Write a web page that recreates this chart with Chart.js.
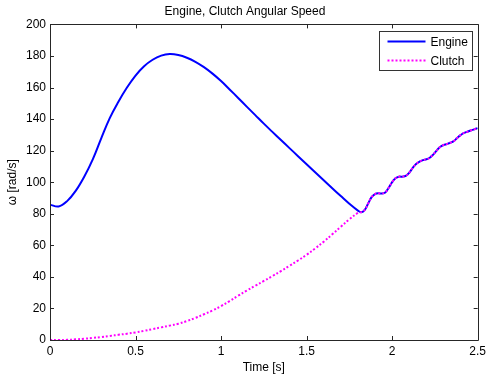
<!DOCTYPE html>
<html>
<head>
<meta charset="utf-8">
<script src="https://cdn.jsdelivr.net/npm/chart.js@4/dist/chart.umd.min.js"></script>
<style>
  html, body { margin: 0; padding: 0; background: #ffffff; }
  #wrap { width: 490px; height: 378px; }
</style>
</head>
<body>
<div id="wrap"><canvas id="c" width="490" height="378"></canvas></div>
<script>
// ---- data ----
const timeS = [
  0, 0.05, 0.1, 0.15, 0.2, 0.25, 0.3, 0.35, 0.4, 0.45,
  0.5, 0.55, 0.6, 0.65, 0.7, 0.75, 0.8, 0.85, 0.9, 0.95,
  1.0, 1.05, 1.1, 1.15, 1.2, 1.25, 1.3, 1.35, 1.4, 1.45,
  1.5, 1.55, 1.6, 1.65, 1.7, 1.75, 1.8,
  1.82, 1.84, 1.86, 1.88, 1.90, 1.92, 1.94, 1.96, 1.98,
  2.00, 2.02, 2.04, 2.06, 2.08, 2.10, 2.12, 2.14, 2.16, 2.18,
  2.20, 2.22, 2.24, 2.26, 2.28, 2.30, 2.32, 2.34, 2.36, 2.38,
  2.40, 2.42, 2.44, 2.46, 2.48, 2.50
];
const engineSpeed = [
  85.8, 84.6, 88, 94.5, 103.5, 114.5, 128, 140.8, 151, 160,
  167.6, 173.5, 177.6, 180.2, 181.2, 180.6, 178.9, 176.3, 172.9, 168.8,
  164.1, 158.8, 153.4, 147.9, 142.5, 137.1, 131.9, 126.7, 121.6, 116.5,
  111.4, 106.3, 101.2, 96.2, 91.2, 86.3, 82,
  81, 82.5, 86.5, 90.5, 92.5, 93, 92.8, 93.5, 96.5,
  100, 102.5, 103.5, 103.5, 104, 106, 109, 111.5, 113, 114,
  114.5, 115.5, 117.5, 120, 122.3, 123.5, 124.2, 125, 126, 128,
  129.8, 131.2, 132, 132.8, 133.5, 134.3
];
const clutchSpeed = [
  0, 0, 0.1, 0.4, 0.8, 1.3, 1.9, 2.6, 3.3, 4.0,
  4.8, 5.8, 6.9, 8.0, 9.1, 10.3, 12, 14, 16.3, 18.7,
  21.5, 24.7, 28.1, 31.3, 34.4, 37.4, 40.5, 43.7, 47, 50.4,
  54, 58, 62.3, 67, 71.8, 76.5, 80.5,
  81, 82.5, 86.5, 90.5, 92.5, 93, 92.8, 93.5, 96.5,
  100, 102.5, 103.5, 103.5, 104, 106, 109, 111.5, 113, 114,
  114.5, 115.5, 117.5, 120, 122.3, 123.5, 124.2, 125, 126, 128,
  129.8, 131.2, 132, 132.8, 133.5, 134.3
];
const seriesNames = ['Engine', 'Clutch'];
const xTicks = [0, 0.5, 1, 1.5, 2, 2.5];
const yTicks = [0, 20, 40, 60, 80, 100, 120, 140, 160, 180, 200];
const chartTitle = 'Engine, Clutch Angular Speed';
const xTitle = 'Time [s]';
const yTitle = 'ω [rad/s]';

const FONT = 'Liberation Sans, Arial, Helvetica, sans-serif';

const toPts = (ys) => timeS.map((t, i) => ({ x: t, y: ys[i] }));

// Box frame with inward ticks on all four sides (Matlab style)
const framePlugin = {
  id: 'frame',
  afterDatasetsDraw(chart) {
    const { ctx, chartArea: a, scales: { x, y } } = chart;
    ctx.save();
    ctx.strokeStyle = '#262626';
    ctx.lineWidth = 1;
    ctx.beginPath();
    ctx.rect(Math.round(a.left) + 0.5, Math.round(a.top) + 0.5,
             Math.round(a.right) - Math.round(a.left), Math.round(a.bottom) - Math.round(a.top));
    const L = 4;
    xTicks.forEach(v => {
      const px = Math.round(x.getPixelForValue(v)) + 0.5;
      ctx.moveTo(px, a.bottom); ctx.lineTo(px, a.bottom - L);
      ctx.moveTo(px, a.top); ctx.lineTo(px, a.top + L);
    });
    yTicks.forEach(v => {
      const py = Math.round(y.getPixelForValue(v)) + 0.5;
      ctx.moveTo(a.left, py); ctx.lineTo(a.left + L, py);
      ctx.moveTo(a.right, py); ctx.lineTo(a.right - L, py);
    });
    ctx.stroke();
    ctx.restore();
  }
};

// Legend box in the upper right corner of the plot
const boxLegendPlugin = {
  id: 'boxLegend',
  afterDraw(chart) {
    const { ctx, chartArea: a } = chart;
    const w = 93, h = 39;
    const x0 = Math.round(a.right - 6 - w) + 0.5;
    const y0 = Math.round(a.top + 7) + 0.5;
    ctx.save();
    ctx.fillStyle = '#ffffff';
    ctx.strokeStyle = '#333333';
    ctx.lineWidth = 1;
    ctx.fillRect(x0, y0, w, h);
    ctx.strokeRect(x0, y0, w, h);
    ctx.font = '12px ' + FONT;
    ctx.textBaseline = 'middle';
    ctx.fillStyle = '#000000';
    chart.data.datasets.forEach((ds, i) => {
      const ly = y0 + 10 + i * 19;
      ctx.beginPath();
      ctx.strokeStyle = ds.borderColor;
      ctx.lineWidth = ds.borderWidth;
      ctx.setLineDash(ds.borderDash || []);
      ctx.moveTo(x0 + 8, ly); ctx.lineTo(x0 + 46, ly);
      ctx.stroke();
      ctx.setLineDash([]);
      ctx.fillText(ds.label, x0 + 51, ly + 1);
    });
    ctx.restore();
  }
};

new Chart(document.getElementById('c'), {
  type: 'line',
  data: {
    datasets: [
      {
        label: seriesNames[0],
        data: toPts(engineSpeed),
        borderColor: '#0000ff',
        borderWidth: 2,
        pointRadius: 0,
        tension: 0.4,
        order: 1,
        fill: false
      },
      {
        label: seriesNames[1],
        data: toPts(clutchSpeed),
        borderColor: '#ff00ff',
        borderWidth: 2,
        borderDash: [2, 2],
        pointRadius: 0,
        tension: 0.4,
        order: 0,
        fill: false
      }
    ]
  },
  options: {
    responsive: false,
    animation: false,
    events: [],
    layout: { padding: { left: 0, right: 0, top: 0, bottom: 0 } },
    plugins: {
      legend: { display: false },
      tooltip: { enabled: false },
      title: {
        display: true,
        text: chartTitle,
        color: '#000000',
        font: { family: FONT, size: 12, weight: 'normal' },
        padding: { top: 4, bottom: 6 }
      }
    },
    scales: {
      x: {
        type: 'linear',
        min: 0, max: 2.5,
        grid: { display: false, drawTicks: false },
        border: { display: false },
        afterBuildTicks: (s) => { s.ticks = xTicks.map(v => ({ value: v })); },
        afterFit: (s) => { s.height = 38; },
        ticks: {
          color: '#000000',
          font: { family: FONT, size: 12 },
          padding: 4,
          maxRotation: 0,
          autoSkip: false,
          callback: (v) => String(v)
        },
        title: {
          display: true, text: xTitle, color: '#000000',
          font: { family: FONT, size: 12 },
          padding: { top: 0, bottom: 3 }
        }
      },
      y: {
        type: 'linear',
        min: 0, max: 200,
        grid: { display: false, drawTicks: false },
        border: { display: false },
        afterBuildTicks: (s) => { s.ticks = yTicks.map(v => ({ value: v })); },
        afterFit: (s) => { s.width = 50; },
        ticks: {
          color: '#000000',
          font: { family: FONT, size: 12 },
          padding: 4,
          autoSkip: false,
          callback: (v) => String(v)
        },
        title: {
          display: true, text: yTitle, color: '#000000',
          font: { family: FONT, size: 12 },
          padding: { top: 5, bottom: 0 }
        }
      }
    }
  },
  plugins: [framePlugin, boxLegendPlugin]
});
</script>
</body>
</html>
